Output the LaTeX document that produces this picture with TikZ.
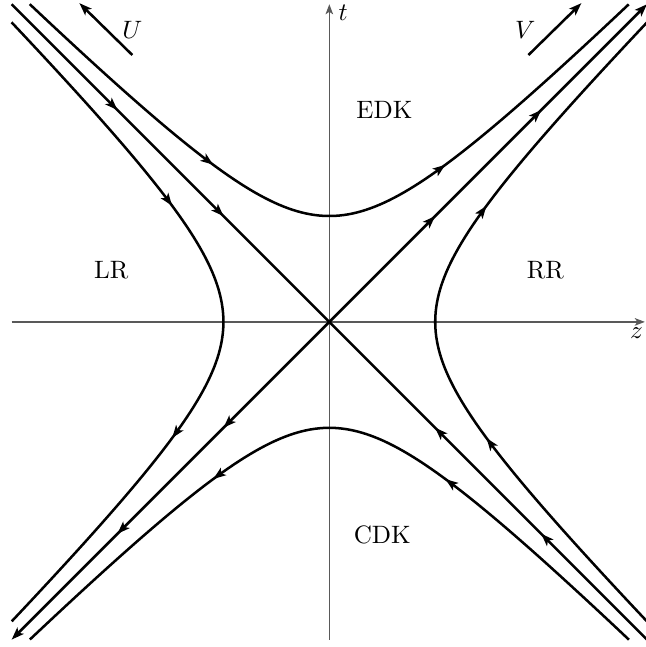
\documentclass[tikz,border=0pt]{standalone}
\usetikzlibrary{arrows.meta,decorations.markings}
\begin{document}
\begin{tikzpicture}[
    x=1.48cm, y=1.48cm,
    axis/.style={gray!70!black, line width=0.6pt, -{Stealth[length=4pt,width=3pt,inset=1pt]}},
    flow/.style={black, line width=1pt},
    tipend/.style={-{Stealth[length=5pt,width=3.6pt,inset=1.2pt]}},
    flowmark/.style={postaction={decorate, decoration={markings,
        mark=at position #1 with {\arrow{Stealth[length=5pt,width=3.6pt,inset=1.2pt]}}}}},
    region/.style={font=\normalsize}
]
\useasboundingbox (-3.11,-3.07) rectangle (2.99,3.04);
% axes
\coordinate (o)  at (0,0);
\coordinate (zl) at (-3,0);
\coordinate (zr) at (2.98,0);
\coordinate (tb) at (0,-3);
\coordinate (tt) at (0,3);
\draw[axis] (zl) -- (zr);
\draw[axis] (tb) -- (tt);
\node[anchor=north east, inner sep=1pt] (zlab) at (2.99,-0.03) {$z$};
\node[anchor=north west, inner sep=1pt] (tlab) at (0.06,3.02) {$t$};
% light cone
\coordinate (ne) at (3,3);
\coordinate (sw) at (-3,-3);
\coordinate (nw) at (-3,3);
\coordinate (se) at (3,-3);
\draw[flow, tipend, flowmark=0.333, flowmark=0.667] (o) -- (ne);
\draw[flow, tipend, flowmark=0.333, flowmark=0.667] (o) -- (sw);
\draw[flow, flowmark=0.333, flowmark=0.667] (nw) -- (o);
\draw[flow, flowmark=0.333, flowmark=0.667] (se) -- (o);
% hyperbolae
\draw[flow, flowmark=0.327, flowmark=0.673]
    plot[domain=-1.763:1.763, samples=90, variable=\s] ({sinh(\s)}, {cosh(\s)});
\draw[flow, flowmark=0.327, flowmark=0.673]
    plot[domain=-1.763:1.763, samples=90, variable=\s] ({-sinh(\s)}, {-cosh(\s)});
\draw[flow, flowmark=0.327, flowmark=0.673]
    plot[domain=-1.763:1.763, samples=90, variable=\s] ({cosh(\s)}, {sinh(\s)});
\draw[flow, flowmark=0.327, flowmark=0.673]
    plot[domain=-1.763:1.763, samples=90, variable=\s] ({-cosh(\s)}, {-sinh(\s)});
% null directions
\coordinate (u0) at (-1.86,2.52);
\coordinate (u1) at (-2.36,3.01);
\coordinate (v0) at (1.88,2.52);
\coordinate (v1) at (2.38,3.01);
\draw[flow, tipend] (u0) -- (u1);
\draw[flow, tipend] (v0) -- (v1);
\node (ulab) at (-1.86,2.76) {$U$};
\node (vlab) at (1.85,2.76) {$V$};
% regions
\node[region] (edk) at (0.52,2.0)   {EDK};
\node[region] (cdk) at (0.50,-2.01) {CDK};
\node[region] (lr)  at (-2.06,0.49) {LR};
\node[region] (rr)  at (2.04,0.49)  {RR};
\end{tikzpicture}
\end{document}
